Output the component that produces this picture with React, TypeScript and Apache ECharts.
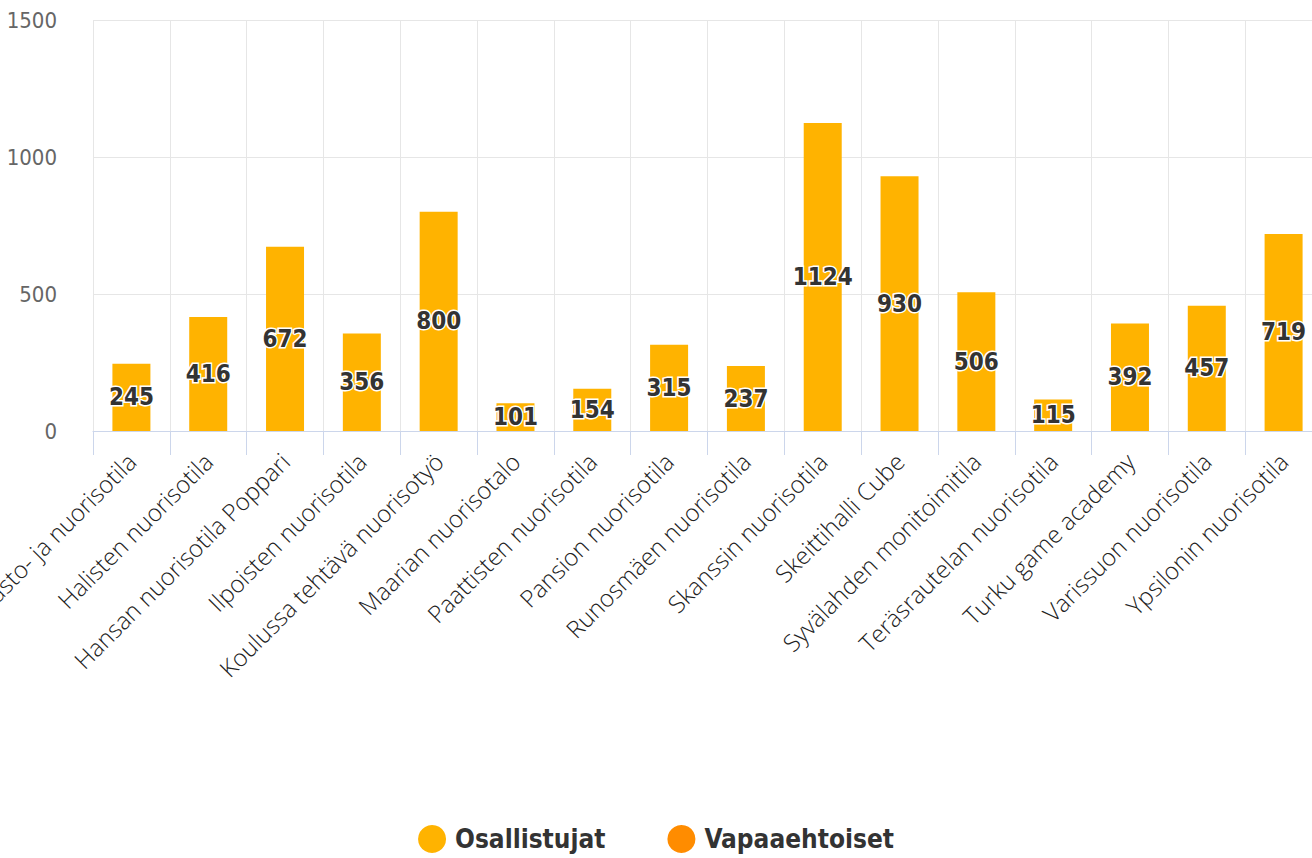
import React, { useEffect, useRef } from "react";
import * as echarts from "echarts";

const categories = [
  "Hirvensalon kirjasto- ja nuorisotila",
  "Halisten nuorisotila",
  "Hansan nuorisotila Poppari",
  "Ilpoisten nuorisotila",
  "Koulussa tehtävä nuorisotyö",
  "Maarian nuorisotalo",
  "Paattisten nuorisotila",
  "Pansion nuorisotila",
  "Runosmäen nuorisotila",
  "Skanssin nuorisotila",
  "Skeittihalli Cube",
  "Syvälahden monitoimitila",
  "Teräsrautelan nuorisotila",
  "Turku game academy",
  "Varissuon nuorisotila",
  "Ypsilonin nuorisotila",
];
const osallistujat = [245, 416, 672, 356, 800, 101, 154, 315, 237, 1124, 930, 506, 115, 392, 457, 719];
const vapaaehtoiset: number[] = [];
const yTicks = [0, 500, 1000, 1500];

const condensed = "'DejaVu Sans Condensed', 'DejaVu Sans', sans-serif";

export default function App() {
  const ref = useRef<HTMLDivElement>(null);
  useEffect(() => {
    if (!ref.current) return;
    const chart = echarts.init(ref.current, null, { renderer: "svg" });
    chart.setOption({
      animation: false,
      grid: {
        left: 93,
        right: -10,
        top: 20,
        bottom: 427,
        containLabel: false,
        outerBoundsMode: "none",
      },
      legend: {
        bottom: 0,
        left: "center",
        icon: "circle",
        itemWidth: 28,
        itemHeight: 28,
        itemGap: 62,
        textStyle: {
          fontFamily: condensed,
          fontWeight: "bold",
          fontSize: 26,
          color: "#333333",
          padding: [0, 0, 0, 4],
        },
        data: ["Osallistujat", "Vapaaehtoiset"],
      },
      xAxis: {
        type: "category",
        data: categories,
        axisLine: { lineStyle: { color: "#ccd6eb", width: 1 } },
        axisTick: { show: true, length: 24, lineStyle: { color: "#ccd6eb" } },
        splitLine: { show: true, lineStyle: { color: "#e6e6e6" } },
        axisLabel: {
          rotate: 45,
          interval: 0,
          margin: 26,
          fontFamily: "'Open Sans', sans-serif",
          fontWeight: 300,
          fontSize: 24,
          color: "#222222",
        },
      },
      yAxis: {
        type: "value",
        min: yTicks[0],
        max: yTicks[yTicks.length - 1],
        interval: 500,
        axisLine: { show: false },
        axisTick: { show: false },
        splitLine: { lineStyle: { color: "#e6e6e6" } },
        axisLabel: {
          margin: 36,
          fontFamily: condensed,
          fontWeight: 200,
          fontSize: 22,
          color: "#666666",
          formatter: (v: number) => String(v),
        },
      },
      series: [
        {
          name: "Osallistujat",
          type: "bar",
          data: osallistujat,
          barWidth: 38,
          barGap: "-100%",
          itemStyle: { color: "#FFB300" },
          label: {
            show: true,
            position: "inside",
            fontFamily: condensed,
            fontWeight: "bold",
            fontSize: 24,
            color: "#333333",
            textBorderColor: "#ffffff",
            textBorderWidth: 3,
          },
        },
        {
          name: "Vapaaehtoiset",
          type: "bar",
          data: vapaaehtoiset,
          barWidth: 38,
          barGap: "-100%",
          itemStyle: { color: "#FF8C00" },
        },
      ],
    });
    return () => chart.dispose();
  }, []);
  return (
    <div
      ref={ref}
      style={{ position: "fixed", left: 0, top: 0, width: 1312, height: 858, background: "#ffffff" }}
    />
  );
}
